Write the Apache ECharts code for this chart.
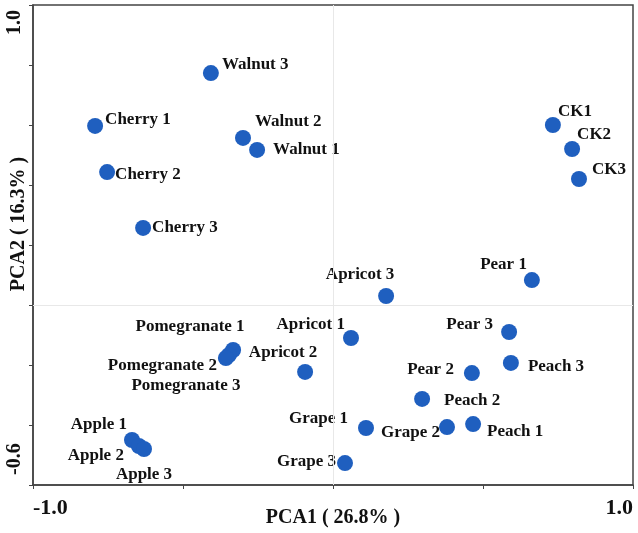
<!DOCTYPE html>
<html>
<head>
<meta charset="utf-8">
<script src="https://cdn.jsdelivr.net/npm/echarts@6/dist/echarts.min.js"></script>
<style>
  html, body { margin: 0; padding: 0; background: #fff; }
  #main { width: 638px; height: 533px; }
</style>
</head>
<body>
<div id="main"></div>
<script>
// sample names and PCA scores
var names = ['Walnut 3', 'Cherry 1', 'Cherry 2', 'Cherry 3', 'Walnut 2', 'Walnut 1',
    'CK1', 'CK2', 'CK3', 'Pear 1', 'Apricot 3', 'Apricot 1', 'Apricot 2', 'Pear 3',
    'Peach 3', 'Pear 2', 'Peach 2', 'Grape 1', 'Grape 2', 'Peach 1', 'Grape 3',
    'Pomegranate 1', 'Pomegranate 2', 'Pomegranate 3', 'Apple 1', 'Apple 2', 'Apple 3'];
var pca1 = [-0.407, -0.793, -0.753, -0.633, -0.300, -0.253,
    0.733, 0.797, 0.820, 0.663, 0.177, 0.060, -0.093, 0.587,
    0.593, 0.463, 0.297, 0.110, 0.380, 0.467, 0.040,
    -0.333, -0.347, -0.357, -0.670, -0.647, -0.630];
var pca2 = [0.773, 0.597, 0.443, 0.257, 0.557, 0.517,
    0.600, 0.520, 0.420, 0.083, 0.030, -0.110, -0.223, -0.090,
    -0.193, -0.227, -0.313, -0.410, -0.407, -0.397, -0.527,
    -0.150, -0.167, -0.177, -0.450, -0.470, -0.480];
var xTicks = [-1.0, 1.0];
var yTicks = [-0.6, 1.0];

// where each label sits next to its point: [align, dx, dy]
var labelPlace = {
    'Walnut 3': ['left', 11, -8], 'Cherry 1': ['left', 10, -6], 'Cherry 2': ['left', 8, 3],
    'Cherry 3': ['left', 9, 0], 'Walnut 2': ['left', 12, -16], 'Walnut 1': ['left', 16, 0],
    'CK1': ['left', 5, -13], 'CK2': ['left', 5, -14], 'CK3': ['left', 13, -9],
    'Pear 1': ['right', -5, -15], 'Apricot 3': ['center', -26, -21], 'Apricot 1': ['right', -6, -13],
    'Apricot 2': ['center', -22, -19], 'Pear 3': ['right', -16, -7], 'Peach 3': ['left', 17, 4],
    'Pear 2': ['right', -18, -3], 'Peach 2': ['left', 22, 2], 'Grape 1': ['right', -18, -9],
    'Grape 2': ['right', -7, 6], 'Peach 1': ['left', 14, 8], 'Grape 3': ['right', -9, -1],
    'Pomegranate 1': ['center', -43, -23], 'Pomegranate 2': ['right', -12, 11],
    'Pomegranate 3': ['center', -40, 28], 'Apple 1': ['right', -5, -15],
    'Apple 2': ['right', -15, 10], 'Apple 3': ['center', 0, 26]
};

var serif = 'Liberation Serif';
var dot = 16;

function isTick(v, list) {
    for (var i = 0; i < list.length; i++) {
        if (Math.abs(v - list[i]) < 1e-6) return true;
    }
    return false;
}

var points = names.map(function (n, i) {
    var p = labelPlace[n];
    return {
        name: n,
        value: [pca1[i], pca2[i]],
        // position is relative to the symbol box, so start from its centre
        label: { align: p[0], position: [dot / 2 + p[1], dot / 2 + p[2]] }
    };
});

var chart = echarts.init(document.getElementById('main'), null, { renderer: 'canvas' });

var labelFont = { fontFamily: serif, fontWeight: 'bold', fontSize: 20, color: '#111' };

var option = {
    animation: false,
    backgroundColor: '#fff',
    grid: {
        left: 33, top: 5, width: 600, height: 480,
        show: true, borderColor: '#444', borderWidth: 1.5,
        containLabel: false, outerBoundsMode: 'none'
    },
    xAxis: {
        type: 'value', min: -1, max: 1, interval: 0.5,
        name: 'PCA1 ( 26.8% )', nameLocation: 'middle', nameGap: 23, nameMoveOverlap: false,
        nameTextStyle: { fontFamily: serif, fontWeight: 'bold', fontSize: 20, color: '#111' },
        axisLine: { onZero: false, lineStyle: { color: '#444', width: 1.5 } },
        axisTick: { length: 4, lineStyle: { color: '#444' } },
        splitLine: { show: false },
        axisLabel: {
            fontFamily: serif, fontWeight: 'bold', fontSize: 22, color: '#111', margin: 12,
            alignMinLabel: 'left', alignMaxLabel: 'right',
            formatter: function (v) { return isTick(v, xTicks) ? v.toFixed(1) : ''; }
        }
    },
    yAxis: {
        type: 'value', min: -0.6, max: 1, interval: 0.2,
        name: 'PCA2 ( 16.3% )', nameLocation: 'middle', nameGap: 4, nameMoveOverlap: false,
        nameTextStyle: { fontFamily: serif, fontWeight: 'bold', fontSize: 20, color: '#111', padding: [0, 0, 0, 42] },
        axisLine: { onZero: false, lineStyle: { color: '#444', width: 1.5 } },
        axisTick: { length: 4, lineStyle: { color: '#444' } },
        splitLine: { show: false },
        axisLabel: {
            fontFamily: serif, fontWeight: 'bold', fontSize: 20, color: '#111', margin: 8, rotate: 90,
            alignMinLabel: 'left', alignMaxLabel: 'right',
            rich: {
                hi: Object.assign({ padding: [0, 5, 0, 0] }, labelFont),
                lo: Object.assign({ padding: [0, 0, 0, 10] }, labelFont)
            },
            formatter: function (v) {
                if (!isTick(v, yTicks)) return '';
                return (v > 0 ? '{hi|' : '{lo|') + v.toFixed(1) + '}';
            }
        }
    },
    series: [{
        type: 'scatter',
        symbolSize: dot,
        itemStyle: { color: '#1f5fbf', opacity: 1 },
        label: {
            show: true, verticalAlign: 'middle',
            fontFamily: serif, fontWeight: 'bold', fontSize: 17, color: '#111',
            formatter: '{b}'
        },
        labelLayout: { hideOverlap: false },
        markLine: {
            silent: true, symbol: 'none', label: { show: false },
            lineStyle: { color: '#e8e8e8', width: 1, type: 'solid' },
            data: [{ xAxis: 0 }, { yAxis: 0 }]
        },
        data: points
    }]
};
chart.setOption(option);
</script>
</body>
</html>
